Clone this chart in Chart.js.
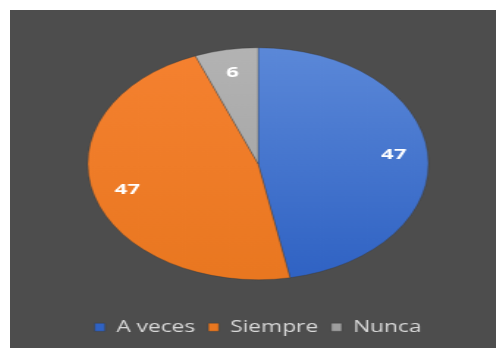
<!DOCTYPE html>
<html>
<head>
<meta charset="utf-8">
<script src="https://cdn.jsdelivr.net/npm/chart.js@4/dist/chart.umd.min.js"></script>
<style>
  html, body { margin: 0; padding: 0; overflow: hidden; }
  html { background: #4d4d4d; }
  body {
    width: 100vw; height: 100vh; box-sizing: border-box;
    border-style: solid; border-color: #fff;
    border-width: 10px 0 10px 10px;
    position: relative;
  }
  /* the chart is drawn narrow and stretched sideways */
  #pie { position: absolute; left: 0; top: 0; transform: scaleX(1.468); transform-origin: 0 0; }
</style>
</head>
<body>
<canvas id="pie" width="331" height="338"></canvas>
<script>
const categories = ["A veces", "Siempre", "Nunca"];
const values = [47, 47, 6];
const topColors = ["#5b88d8", "#f58130", "#b3b3b3"];
const bottomColors = ["#2f62c3", "#e97720", "#9e9e9e"];

const PIE_RADIUS = 116;

// vertical shading on each slice, light at the top of the pie
function sliceFill(context) {
  const i = context.dataIndex;
  const area = context.chart.chartArea;
  if (!area) return topColors[i];
  const cy = (area.top + area.bottom) / 2;
  const g = context.chart.ctx.createLinearGradient(0, cy - PIE_RADIUS, 0, cy + PIE_RADIUS);
  g.addColorStop(0, topColors[i]);
  g.addColorStop(1, bottomColors[i]);
  return g;
}

// value labels inside the slices
const sliceLabels = {
  id: "sliceLabels",
  afterDatasetsDraw(chart) {
    const ctx = chart.ctx;
    const meta = chart.getDatasetMeta(0);
    ctx.save();
    ctx.fillStyle = "#ffffff";
    ctx.font = "bold 15px 'Open Sans', sans-serif";
    ctx.textAlign = "center";
    ctx.textBaseline = "middle";
    meta.data.forEach((arc, i) => {
      const p = arc.getProps(["x", "y", "startAngle", "endAngle", "outerRadius"], true);
      const mid = (p.startAngle + p.endAngle) / 2;
      const r = p.outerRadius * 0.8;
      ctx.fillText(String(values[i]), p.x + Math.cos(mid) * r, p.y + Math.sin(mid) * r);
    });
    ctx.restore();
  }
};

new Chart(document.getElementById("pie"), {
  type: "pie",
  data: {
    labels: categories,
    datasets: [{
      data: values,
      backgroundColor: sliceFill,
      borderColor: "rgba(50,50,50,0.6)",
      borderWidth: 0.5,
      radius: PIE_RADIUS
    }]
  },
  options: {
    responsive: false,
    animation: false,
    layout: { padding: { top: 7, bottom: 3, left: 7, right: 0 } },
    plugins: {
      legend: {
        position: "bottom",
        labels: {
          color: "#d9d9d9",
          font: { family: "'Open Sans', sans-serif", size: 15.5 },
          boxWidth: 7,
          boxHeight: 8,
          padding: 9
        }
      },
      tooltip: { enabled: false }
    }
  },
  plugins: [sliceLabels]
});
</script>
</body>
</html>
